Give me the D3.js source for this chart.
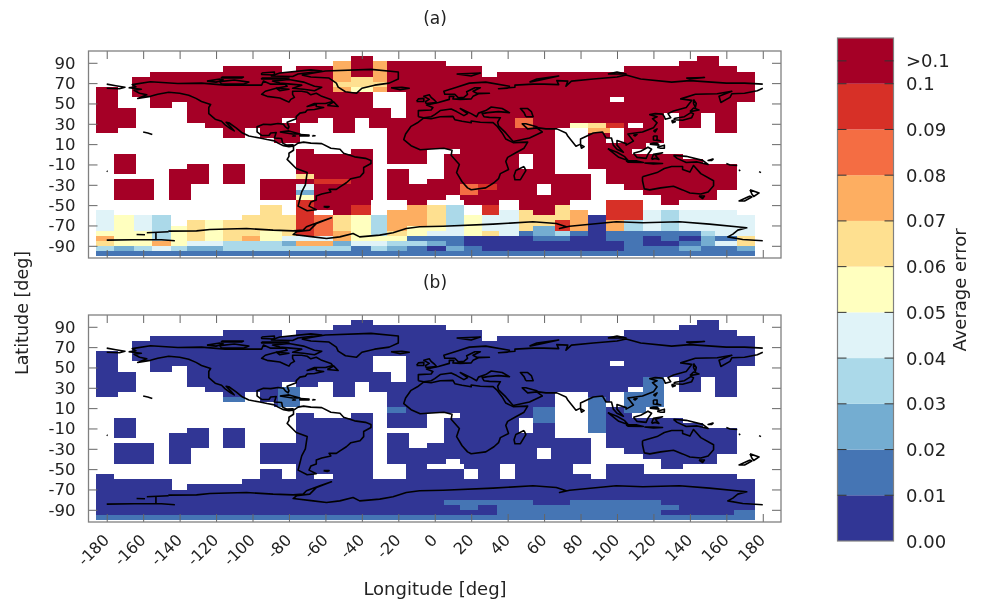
<!DOCTYPE html>
<html><head><meta charset="utf-8">
<script src="https://cdn.jsdelivr.net/npm/d3@7"></script>
<style>html,body{margin:0;padding:0;background:#fff}svg{display:block;filter:blur(0.45px)}text{font-family:"DejaVu Sans",sans-serif;fill:#222}</style>
</head><body><div id="c"></div>
<script>
const levelColors=["#313695","#4575b4","#74add1","#abd9e9","#e0f3f8","#ffffbf","#fee090","#fdae61","#f46d43","#d73027","#a50026"];
const lonTicks=[-180,-160,-140,-120,-100,-80,-60,-40,-20,0,20,40,60,80,100,120,140,160,180];
const latTicks=[90,70,50,30,10,-10,-30,-50,-70,-90];
const legendLabels=["0.00","0.01","0.02","0.03","0.04","0.05","0.06","0.07","0.08","0.09","0.1"];
const latEdges=[96.5,91.5,86.4,81.4,76.3,71.3,66.2,61.2,56.1,51.1,46,41,35.9,30.9,25.8,20.8,15.7,10.7,5.6,0.6,-4.5,-9.5,-14.6,-19.6,-24.7,-29.7,-34.8,-39.8,-44.9,-49.9,-55,-60,-65.1,-70.1,-75.2,-80.2,-85.3,-90.3,-95.4,-100.4];
const colEdges=[-186,-176,-165,-155,-145,-136,-126,-116,-106,-96,-84,-76,-66,-56,-46,-35,-26,-15,-4,6,16,26,35,46,54,66,74,84,94,104,114,124,134,146,154,166,176];
// longitude runs covered by data, one entry per latitude band
const dataRuns=[
[[-46,-34],[144,156]],
[[-56,6],[134,156]],
[[-116,-84],[-76,26],[104,166]],
[[-156,26],[34,176]],
[[-166,176]],
[[-166,176]],
[[-186,-174],[-166,176]],
[[-186,-174],[-166,-34],[-16,176]],
[[-186,-174],[-156,-34],[-16,96],[104,176]],
[[-186,-174],[-156,-144],[-136,-34],[-16,166]],
[[-186,-164],[-136,-24],[-16,166]],
[[-186,-164],[-136,-24],[-16,126],[134,146],[154,166]],
[[-186,-164],[-136,-84],[-76,-64],[-56,-44],[-36,126],[134,146],[154,166]],
[[-186,-164],[-126,-74],[-56,-44],[-36,106],[114,126],[134,146],[154,166]],
[[-186,-174],[-116,-104],[-96,-74],[-56,-44],[-26,66],[84,96],[104,126],[154,166]],
[[-116,-104],[-96,-74],[-26,66],[84,96],[104,126]],
[[-88,-74],[-26,66],[84,94],[104,126]],
[[-26,66],[84,116]],
[[-76,-66],[-46,-34],[-26,-4],[14,66],[84,108]],
[[-176,-164],[-76,-34],[-26,-4],[5,46],[54,66],[84,136]],
[[-176,-164],[-76,-34],[-26,-4],[5,46],[54,66],[84,147]],
[[-176,-164],[-136,-124],[-116,-104],[-76,-34],[5,46],[54,66],[84,166]],
[[-176,-164],[-146,-124],[-116,-104],[-76,-34],[-26,-14],[5,66],[94,166]],
[[-146,-124],[-116,-104],[-76,-34],[-26,-14],[5,86],[94,166]],
[[-176,-154],[-146,-124],[-116,-104],[-96,-34],[-26,-14],[-4,86],[94,166]],
[[-176,-154],[-146,-134],[-96,-34],[-26,56],[64,86],[104,166]],
[[-176,-154],[-146,-134],[-96,-34],[-26,56],[64,86],[114,155]],
[[-176,-154],[-146,-134],[-96,-34],[-26,6],[14,86],[124,155]],
[[-76,-34],[-16,-4],[16,36],[44,76],[94,115],[124,136]],
[[-96,-84],[-76,-34],[-16,16],[24,36],[44,76],[94,115]],
[[-186,-176],[-96,-84],[-76,-66],[-56,-34],[-16,16],[24,36],[44,86],[94,166]],
[[-186,-144],[-106,176]],
[[-186,-144],[-136,176]],
[[-186,176]],[[-186,176]],[[-186,176]],[[-186,176]],[[-186,176]],[[-186,176]]
];
// [firstBand,lastBand,lon0,lon1,level]
const patchesA=[
[1,4,-56,-46,7],[5,5,-56,-46,6],[6,6,-56,-46,7],[4,5,-46,-34,6],[6,6,-46,-34,5],[1,4,-34,-26,7],[5,5,-34,-26,6],[6,6,-34,-26,7],
[12,13,44,54,8],[13,13,74,84,5],[13,13,84,94,6],[13,13,94,104,9],[14,14,84,96,7],
[25,26,14,24,8],[25,25,24,34,9],
[23,23,-76,-66,6],[24,24,-66,-46,9],[25,25,-76,-66,4],[26,26,-76,-66,2],[27,27,-76,-66,5]
];
const patchesB=[
[13,16,-86,-74,1],[15,15,-116,-104,1],[17,17,-26,-16,1],
[11,13,114,126,1],[14,16,104,126,1],[17,17,104,116,1],[15,21,84,94,1],[17,19,54,66,1],
[35,35,5,54,1],[35,35,74,124,1],[36,36,14,24,1],[36,37,34,124,1],[36,36,124,134,1],[37,37,164,176,1],[38,38,-186,176,1]
];
// bands 28..38 of panel (a), one character per column; "." = no data, A = level 10
const southA=[
"...... .....9 AAA..A ..AA.A AA..99 .A....",
"...... ...6.9 AA9..7 63.9.A A6..99 ......",
"4..... ...6.9 .A9.77 63.946 A67.99 43444.",
"4543.. ..6669 865377 635446 667099 434444",
"4543.6 566669 865377 635446 697073 434444",
"454356 566669 865375 545446 297073 434444",
"555356 566569 875365 445641 231011 111344",
"755356 567544 475551 110000 110011 010216",
"655754 433327 724433 210000 000001 001246",
"323432 233333 331321 021000 000001 112112",
"111111 111111 111111 111111 111111 111111"
];
const coasts=[
// North and Central America
[[-168,65.5],[-164,66.5],[-166,68.5],[-156,71.3],[-141,69.6],[-128,70],[-115,68],[-108,68],[-95,68],[-94,72],[-90,69],[-82,69],[-81,67],[-87,65],[-93,62],[-95,59],[-92,57],[-85,55.3],[-82,53],[-80,51.3],[-79,54],[-77,56],[-78,59],[-78,62],[-73,62],[-70,61],[-68,58.5],[-65,60],[-62,57],[-57,54],[-56,52],[-60,50],[-66,50],[-70,47],[-65,49],[-65,47],[-61,46],[-66,44],[-70,43.5],[-71,41.5],[-74,40.5],[-76,37],[-76,35],[-81,31.5],[-80,27],[-80.5,25],[-82,27],[-83,29.5],[-86,30.3],[-90,29.2],[-94,29.5],[-97.5,27],[-97.5,22],[-95,18.5],[-91,18.5],[-90,21],[-87,21.5],[-88,16],[-84,15.5],[-83.5,11],[-81,9],[-78,9.3],[-77,8.5],[-78,8],[-80,7.5],[-83,8.5],[-86,11],[-88,13.2],[-92,14.5],[-96,16],[-102,18],[-106,21.5],[-109,26],[-113,31],[-114.5,31.5],[-112,27],[-110,23],[-112,25],[-115,29],[-117,32.5],[-120.5,34.5],[-124,40],[-124,46],[-123,49],[-128,52],[-131,55],[-135,58],[-140,60],[-146,61],[-152,59],[-156,57],[-163,55],[-158,58.5],[-162,60],[-165,63],[-161,64],[-168,65.5]],
// Greenland and Arctic islands
[[-73,78],[-60,82],[-35,83.5],[-20,81],[-20,74],[-25,70],[-33,68],[-40,65],[-43,60],[-49,61.5],[-53,66],[-54,70],[-58,75],[-68,76],[-73,78]],
[[-80,73.5],[-72,71],[-66,67],[-62,66],[-66,62.5],[-72,64],[-78,65],[-73,68],[-85,70],[-89,72],[-80,73.5]],
[[-90,77],[-85,80],[-68,83],[-62,82],[-75,79],[-78,76.5],[-90,77]],
[[-117,69],[-105,69],[-102,71],[-110,73],[-118,71.5],[-117,69]],
[[-125,72],[-118,74],[-116,73],[-120,71],[-125,72]],
[[-95,75],[-80,75],[-85,74],[-95,74],[-95,75]],
[[-117,76],[-105,76],[-106,75],[-117,75],[-117,76]],
[[-95,80],[-88,81],[-88,78],[-95,78.5],[-95,80]],
[[-87,65],[-80,64],[-85,62.5],[-87,65]],
[[-59,48],[-55.5,51.5],[-53,47],[-59,48]],
// Caribbean, Hawaii, Pacific specks
[[-85,22],[-80,23],[-74,20],[-78,20],[-85,22]],
[[-74,19.5],[-69,19],[-69,18],[-74,18],[-74,19.5]],
[[-78,18.3],[-76.5,18],[-78,18],[-78,18.3]],
[[-67,18.4],[-65.7,18.3],[-67,18],[-67,18.4]],
[[-160,22],[-157.5,21],[-155,19.5]],
[[-180,-16.5],[-179.5,-17]],
// Chukotka across the date line
[[-180,69],[-175,67.5],[-170,66],[-173,64.5],[-180,65]],
// South America
[[-77,8.5],[-75,11],[-72,12],[-68,11],[-62,10.5],[-57,6],[-52,5],[-50,1],[-44,-2.5],[-38,-4],[-35,-6],[-35,-9],[-39,-13],[-39,-18],[-41,-22],[-46,-24],[-48.5,-28],[-52,-32],[-54,-34.5],[-58,-34.5],[-57,-37],[-62,-39],[-65,-41],[-65,-45],[-68,-47],[-69,-51],[-65,-54.5],[-70,-55.5],[-75,-51],[-74,-44],[-73,-37],[-71,-30],[-70,-18],[-76,-14],[-81,-5],[-80,-2],[-80,1],[-77.5,4],[-77.5,7],[-78,8]],
[[-61,-51.5],[-58,-51.5],[-59,-52.3],[-61,-51.5]],
// Africa, Madagascar
[[-6,35.8],[-2,35],[3,37],[10,37.3],[11,34],[15,32.5],[20,31],[20,32.8],[25,31.5],[32,31.2],[34,28],[37,21],[39,15],[43,11.5],[51,12],[49,6],[44,1],[40,-3],[39,-7],[40.5,-15],[36,-19],[35,-24],[32.5,-28],[28,-33],[20,-34.8],[18,-33],[15,-27],[12,-18],[13.5,-10],[9,-1],[9.5,4],[5,6],[-4,5],[-8,4.5],[-13,8.5],[-17,14.5],[-16,20],[-13,27.5],[-9.5,31],[-6,35.8]],
[[49,-12],[50,-16],[47,-25],[44,-25],[43.5,-21],[44.5,-16],[49,-12]],
// Eurasia
[[-9,37],[-9,43],[-2,43.5],[-1,46],[-4.5,48.5],[2,51],[8,54],[8,57],[10.5,57],[10,54.5],[14,54],[20,54.5],[21,57],[24,59.5],[30,60],[23,60],[21,62],[25,65.5],[22,65.5],[17.5,61.5],[18,59],[16,56],[13,55.5],[11,59],[5.5,59],[5,62],[12,66],[19,70],[28,71],[41,67],[40,65],[35,64.5],[44,66],[44,68],[54,69],[60,69],[68,68.5],[67,72.5],[73,72],[72,67],[75,72],[87,74],[100,76],[105,78],[113,74],[130,71],[140,72.5],[160,70],[170,70],[180,69]],
[[180,65],[177,62.5],[170,60],[163,59.5],[162,56],[157,51],[156,57],[163,62],[155,59.5],[143,59],[135,54.5],[141,53],[138,46],[131,42.5],[128,40],[129.5,36],[126.5,34.5],[126,37],[125,39.5],[121,40],[118,39],[122,37],[119.5,35],[122,31],[120,26],[114,22],[110,21],[106,20],[109,13],[105,9],[105,10.5],[100,13.5],[100,9],[103.5,2],[100,5],[98,9],[97,16],[94,16],[92,22],[87,21],[80,15],[80,10],[77.5,8],[73,18],[72,21],[67,25],[61,25],[57,26],[56,27],[50,30],[48,30],[51,25],[56,26],[59,22],[52,16],[43,12.5],[39,21],[35,28],[34.5,31.5],[36,36],[30,36.3],[27,37],[26,40],[29,41],[35,42],[41,41],[37,45],[31,46.5],[28,43],[24,40.5],[23,37],[20,40],[14,45],[18,40],[16,38],[12,42],[9,44.5],[3,43],[0,39],[-2,37],[-6,36],[-9,37]],
[[50,37],[54,37],[53,42],[51,45],[47,45],[49,41],[50,37]],
[[80,9.5],[82,7.5],[80.5,6],[80,9.5]],
[[-5,50],[1,51],[0,53],[-2,56],[-3,58.5],[-6,57],[-3,54],[-5,52],[-5,50]],
[[-10,52],[-6,52],[-6,55],[-9,54.5],[-10,52]],
[[-24,65.5],[-18,66],[-14,65],[-19,63.5],[-24,65.5]],
[[12,79],[25,80],[20,77],[12,79]],
[[52,71],[56,74],[68,77],[58,73],[52,71]],
[[95,79],[105,79],[100,81],[95,79]],
[[138,75],[148,75.5],[140,74],[138,75]],
[[142,54],[143.5,50],[143,46],[142,50],[142,54]],
[[131,34],[136,33.5],[141,36],[142,40],[140.5,41],[137,37],[132,35.5],[131,34]],
[[140,42],[145,43.5],[142,45.5],[140,42]],
[[130,33.5],[132,32],[130.5,31],[130,33.5]],
[[120,23],[122,25],[121,22],[120,23]],
[[109,19],[111,19.5],[110,18],[109,19]],
[[120,18],[122,18],[122,14],[124,13],[120,14],[120,18]],
[[122,7],[126,9],[126,6],[124,6],[122,7]],
[[118,10],[120,11],[122,11],[123,9],[118,10]],
// Indonesia, New Guinea, Australia, New Zealand
[[109,1],[113,3],[117,7],[119,5],[117,0],[116,-4],[111,-3],[109,1]],
[[95,5.5],[100,2],[104,-2],[106,-6],[101,-3],[95,5.5]],
[[105,-6.5],[111,-6.5],[114.5,-8],[106,-7.7],[105,-6.5]],
[[119,-5],[120,0],[125,1.5],[121,-1],[123,-5],[121,-4],[119,-5]],
[[131,-1],[138,-2],[147,-6],[150,-10],[144,-7.5],[138,-8],[133,-4],[131,-1]],
[[115,-8.5],[120,-8.5],[125,-9],[120,-9.5],[115,-8.5]],
[[114,-22],[122,-18],[126,-14],[130,-12],[136,-12],[136,-15],[140,-17.5],[142,-11],[146,-19],[153,-26],[153,-31],[150,-37],[146,-39],[140,-38],[136,-35],[131,-31.5],[124,-33],[118,-35],[115,-34],[114,-26],[114,-22]],
[[145,-41],[148,-41],[147,-43.5],[145,-41]],
[[173,-35],[178,-38],[175,-41.5],[174,-39],[173,-35]],
[[173,-41],[174,-42],[170,-46],[167,-46],[173,-41]],
[[153,-4.5],[152,-6],[150,-6],[153,-4.5]],
[[160,-9],[162,-10.5],[166,-11]],
[[167,-15],[167.5,-16.5]],
[[178,-17],[179,-18]],
// Antarctica
[[-180,-84.4],[-165,-84],[-150,-84],[-142.6,-85]],
[[-163.6,-78.9],[-159,-79.2]],
[[-158,-77.2],[-146,-76.2]],
[[-153,-77.5],[-153,-84]],
[[-146.2,-75.6],[-130.7,-75.3],[-123.4,-74],[-103.3,-73],[-88.7,-74.6],[-77.7,-75.3],[-72.2,-74.6],[-70.4,-71.3],[-63,-66.4],[-56.7,-62.5],[-64.9,-68],[-68.6,-74.6],[-75.9,-76.2],[-77.7,-78.9],[-66.7,-81.2],[-59.4,-82.8],[-52.1,-81.2],[-44.8,-77.9],[-41.2,-81.2],[-30.2,-79.5],[-22.9,-77.2],[-15.6,-73],[-8.3,-71.3],[4.6,-70.7],[32,-68.7],[53.9,-66.4],[66.7,-68],[72.2,-71.3],[68.5,-73],[74,-70.7],[99.6,-66.4],[114.2,-67.4],[134.3,-66.4],[150.8,-68.7],[171.2,-72.3],[166.3,-74.6],[163.6,-78.5],[160.8,-81.2],[169,-83.8],[180,-85.1]]
];

const W=983,H=603,left=88.5,right=781,panelH=207,tops=[51,315];
const svg=d3.select("#c").append("svg").attr("width",W).attr("height",H);
const x=d3.scaleLinear().domain([-190,190]).range([left,right]);
const southRows=southA.map(s=>Array.from(s.replace(/ /g,"")));
const fmt=d=>String(d);

function panel(top,cells,patches,showLon,title){
  const y=d3.scaleLinear().domain([101.6,-102]).range([top,top+panelH]);
  const g=svg.append("g");
  const rect=(sel)=>sel.attr("x",d=>x(d.lon0)).attr("width",d=>x(d.lon1)-x(d.lon0)).attr("y",d=>y(latEdges[d.r0])).attr("height",d=>y(latEdges[d.r1+1])-y(latEdges[d.r0])).attr("fill",d=>levelColors[d.level]).attr("shape-rendering","crispEdges");
  rect(g.append("g").selectAll("rect").data(cells).join("rect"));
  rect(g.append("g").selectAll("rect").data(patches.map(p=>({r0:p[0],r1:p[1],lon0:p[2],lon1:p[3],level:p[4]}))).join("rect"));
  const line=d3.line().x(d=>x(d[0])).y(d=>y(d[1]));
  g.append("g").selectAll("path").data(coasts).join("path").attr("d",line).attr("fill","none").attr("stroke","#000").attr("stroke-width",1.6).attr("stroke-linejoin","round");
  const style=a=>{a.select(".domain").remove();a.selectAll("line").attr("stroke","#666").attr("stroke-width",1);};
  const ax=(gen,tx,ty)=>g.append("g").attr("transform",`translate(${tx},${ty})`).call(gen).call(style);
  ax(d3.axisTop(x).tickValues(lonTicks).tickSize(-8).tickFormat(""),0,top);
  const bot=ax(d3.axisBottom(x).tickValues(lonTicks).tickSize(-8).tickFormat(showLon?fmt:""),0,top+panelH);
  ax(d3.axisRight(y).tickValues(latTicks).tickSize(-9).tickFormat(""),right,0);
  const l=ax(d3.axisLeft(y).tickValues(latTicks).tickSize(-9).tickFormat(fmt),left,0);
  l.selectAll("text").attr("x",-13).attr("font-size",16.5).attr("fill","#222").style("font-family",'"DejaVu Sans",sans-serif');
  if(showLon){
    bot.selectAll("text").attr("font-size",16).attr("fill","#222").style("font-family",'"DejaVu Sans",sans-serif')
      .attr("text-anchor","end").attr("dy",0).attr("x",0).attr("y",0)
      .attr("transform","translate(3,19) rotate(-45)");
  }
  g.append("rect").attr("x",left).attr("y",top).attr("width",right-left).attr("height",panelH).attr("fill","none").attr("stroke","#808080").attr("stroke-width",1.3);
  svg.append("text").attr("x",435).attr("y",top-27).attr("text-anchor","middle").attr("font-size",17).text(title);
}

const cellsB=dataRuns.flatMap((runs,r)=>runs.map(u=>({r0:r,r1:r,lon0:u[0],lon1:u[1],level:0})));
const cellsA=dataRuns.slice(0,28).flatMap((runs,r)=>runs.map(u=>({r0:r,r1:r,lon0:u[0],lon1:u[1],level:10})))
  .concat(southRows.flatMap((row,i)=>row.map((c,j)=>c==="."?null:({r0:28+i,r1:28+i,lon0:colEdges[j],lon1:colEdges[j+1],level:c==="A"?10:+c})).filter(Boolean)));
panel(tops[0],cellsA,patchesA,false,"(a)");
panel(tops[1],cellsB,patchesB,true,"(b)");

svg.append("text").attr("transform","translate(28,313) rotate(-90)").attr("text-anchor","middle").attr("font-size",17.5).text("Latitude [deg]");
svg.append("text").attr("x",435).attr("y",595).attr("text-anchor","middle").attr("font-size",18).text("Longitude [deg]");

// colour bar
const barX=837.5,barW=56;
const cy=d3.scaleLinear().domain([0,11]).range([541,38]);
const bar=svg.append("g");
bar.selectAll("rect").data(levelColors).join("rect").attr("x",barX).attr("width",barW).attr("y",(d,i)=>cy(i+1)).attr("height",(d,i)=>cy(i)-cy(i+1)).attr("fill",d=>d);
bar.append("rect").attr("x",barX).attr("y",cy(11)).attr("width",barW).attr("height",cy(0)-cy(11)).attr("fill","none").attr("stroke","#808080").attr("stroke-width",1.2);
const tickPos=legendLabels.map((d,i)=>i).concat([10.5]);
bar.selectAll("line.a").data(tickPos.slice(1)).join("line").attr("x1",barX).attr("x2",barX+9).attr("y1",d=>cy(d)).attr("y2",d=>cy(d)).attr("stroke","#333");
bar.selectAll("line.b").data(tickPos.slice(1)).join("line").attr("x1",barX+barW-9).attr("x2",barX+barW).attr("y1",d=>cy(d)).attr("y2",d=>cy(d)).attr("stroke","#333");
const labs=legendLabels.concat([">0.1"]);
bar.selectAll("text").data(labs).join("text").attr("x",906).attr("y",(d,i)=>cy(tickPos[i])+6.5).attr("font-size",18).text(d=>d);
svg.append("text").attr("transform","translate(966,290) rotate(-90)").attr("text-anchor","middle").attr("font-size",18).text("Average error");
</script></body></html>
